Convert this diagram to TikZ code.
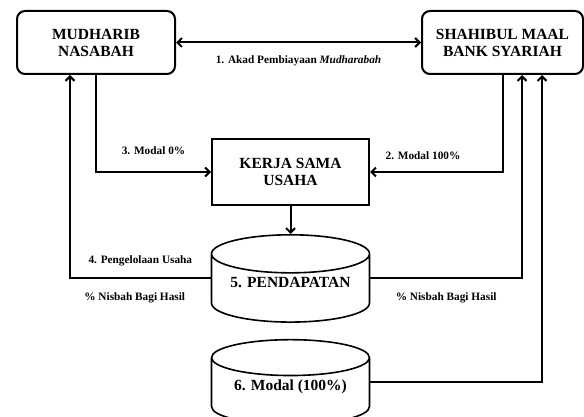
\documentclass[tikz,border=0pt]{standalone}
\usepackage{fontspec}
\setmainfont{Liberation Serif}
\usetikzlibrary{shapes.geometric,arrows.meta,positioning}

\begin{document}
\begin{tikzpicture}[x=1pt,y=-1pt,line width=2pt,>={Straight Barb[length=4.5pt,width=9pt]},
  pihak/.style={draw,rounded corners=8pt,minimum height=63pt,align=center,font=\fontsize{15.5}{17}\selectfont\bfseries},
  kotak/.style={draw,minimum width=157pt,minimum height=66pt,align=center,font=\fontsize{15.5}{17}\selectfont\bfseries},
  tabung/.style={draw,line width=1.6pt,cylinder,shape border rotate=90,aspect=0.3,minimum width=158pt,minimum height=82pt,text depth=18pt,font=\fontsize{15.5}{17}\selectfont\bfseries},
  lbl/.style={anchor=base,font=\fontsize{11.3}{13}\selectfont\bfseries}]
  \useasboundingbox (0,0) rectangle (584,417);
  \node[pihak,minimum width=158pt] (mud) at (96,42.5) {MUDHARIB\\NASABAH};
  \node[pihak,minimum width=161pt] (shah) at (502.5,42.5) {SHAHIBUL MAAL\\BANK SYARIAH};
  \node[kotak] (kerja) at (290.5,172) {KERJA SAMA\\USAHA};
  \node[tabung,below=28pt of kerja] (pend) {5. PENDAPATAN};
  \node[tabung,below=16pt of pend] (modal) {6. Modal (100\%)};
  % akad dan modal
  \draw[<->] (mud) -- (shah) node[lbl,midway,yshift=-21pt]{1. Akad Pembiayaan \textit{Mudharabah}};
  \draw[->] (mud.south) |- (kerja.west) node[lbl,pos=0.75,yshift=17pt]{3. Modal 0\%};
  \draw[->] (shah.south) |- (kerja.east) node[lbl,pos=0.8,yshift=12pt]{2. Modal 100\%};
  \draw[->] (kerja) -- (pend);
  % bagi hasil
  \draw[->] (pend.west |- pend.shape center) -| ([xshift=-26pt]mud.south)
    node[lbl,pos=0.25,yshift=15pt]{4. Pengelolaan Usaha}
    node[lbl,pos=0.27,yshift=-22pt]{\% Nisbah Bagi Hasil};
  \draw[->] (pend.east |- pend.shape center) -| ([xshift=19.5pt]shah.south) node[lbl,pos=0.25,yshift=-22pt]{\% Nisbah Bagi Hasil};
  \draw[->] (modal.east |- modal.shape center) -| ([xshift=39.5pt]shah.south);
\end{tikzpicture}
\end{document}
